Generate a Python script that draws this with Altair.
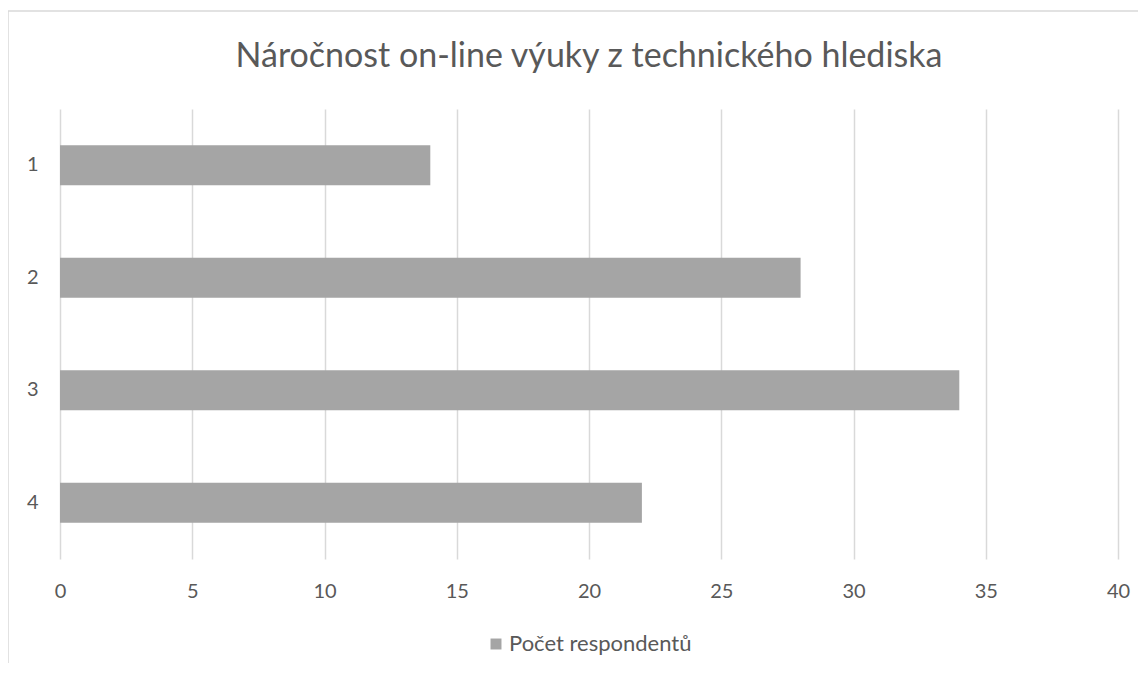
import altair as alt
import pandas as pd

categories = ["1", "2", "3", "4"]
values = [14, 28, 34, 22]
series_name = "Počet respondentů"
x_ticks = [0, 5, 10, 15, 20, 25, 30, 35, 40]
title_text = "Náročnost on-line výuky z technického hlediska"

df = pd.DataFrame({"cat": categories, "val": values, "series": [series_name] * len(categories)})

FONT = "Lato"
TXT = "#595959"
GRID = "#d9d9d9"

bars = alt.Chart(df).mark_bar(color="#a5a5a5").encode(
    y=alt.Y("cat:N", sort=categories,
            scale=alt.Scale(paddingInner=0.644, paddingOuter=0.322),
            axis=alt.Axis(title=None, ticks=False, domain=False, grid=False,
                          labelPadding=22, labelFontSize=20, labelColor=TXT, labelFont=FONT)),
    x=alt.X("val:Q", scale=alt.Scale(domain=[0, 40], nice=False),
            axis=alt.Axis(title=None, values=x_ticks, ticks=False, domain=False,
                          grid=True, gridColor=GRID, gridWidth=1.5, labelFlush=False,
                          labelPadding=22, labelFontSize=20, labelColor=TXT, labelFont=FONT)),
    color=alt.Color("series:N", scale=alt.Scale(range=["#a5a5a5"]),
                    legend=alt.Legend(title=None, orient="none", legendX=425, legendY=524,
                                      direction="horizontal", padding=0,
                                      symbolType="square", symbolSize=120, symbolStrokeWidth=0,
                                      labelFontSize=22, labelColor=TXT, labelFont=FONT,
                                      labelLimit=400, labelOffset=2)),
)

frame = pd.DataFrame({"k": [0]})
top_line = alt.Chart(frame).mark_rule(color=GRID, strokeWidth=1.5).encode(
    x=alt.value(-52), x2=alt.value(1200), y=alt.value(-98))
left_line = alt.Chart(frame).mark_rule(color=GRID, strokeWidth=1.5).encode(
    x=alt.value(-52), y=alt.value(-98), y2=alt.value(700))

chart = alt.layer(bars, top_line, left_line).properties(
    width=1058, height=450,
    title=alt.TitleParams(title_text, fontSize=34, font=FONT, color=TXT,
                          fontWeight="normal", anchor="middle", offset=-64),
    autosize=alt.AutoSizeParams(type="none"),
    padding={"left": 52, "top": 101, "right": 20, "bottom": 104},
).configure_view(stroke=None)

chart.save("out.html", embed_options={"renderer": "svg", "actions": False})
